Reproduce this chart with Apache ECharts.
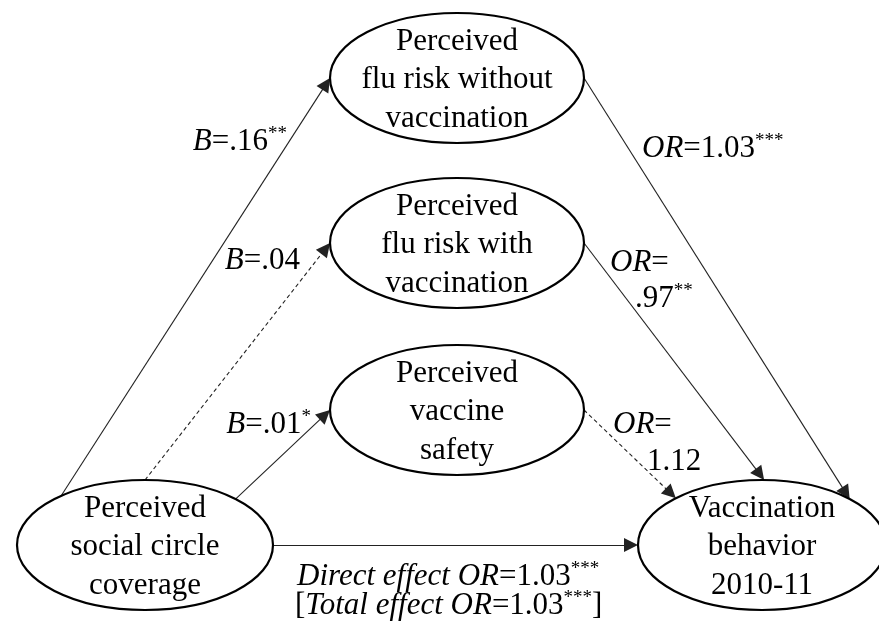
<!DOCTYPE html>
<html>
<head>
<meta charset="utf-8">
<script src="https://cdn.jsdelivr.net/npm/echarts@6/dist/echarts.min.js"></script>
<style>
  html, body { margin: 0; padding: 0; background: #fff; }
  #chart { width: 879px; height: 633px; }
</style>
</head>
<body>
<div id="chart"></div>
<script>
// constructs (ellipses)
const nodeLabels = [
  'Perceived\nsocial circle\ncoverage',
  'Perceived\nflu risk without\nvaccination',
  'Perceived\nflu risk with\nvaccination',
  'Perceived\nvaccine\nsafety',
  'Vaccination\nbehavior\n2010-11'
]

// paths: from -> to, statistic, value, significance stars
const pathFrom = [0, 0, 0, 0, 1, 2, 3]
const pathTo = [1, 2, 3, 4, 4, 4, 4]
const pathStat = ['B', 'B', 'B', 'Direct effect OR', 'OR', 'OR', 'OR']
const pathValue = ['.16', '.04', '.01', '1.03', '1.03', '.97', '1.12']
const pathStars = ['**', '', '*', '***', '***', '**', '']
const totalStat = 'Total effect OR'
const totalValue = '1.03'
const totalStars = '***'

// layout of the diagram (plot units = pixels)
const nodeX = [145, 457, 457, 457, 762]
const nodeY = [545, 78, 243, 410, 545]
const nodeRx = [128, 127, 127, 127, 124]
const nodeRy = [65, 65, 65, 65, 65]
// where each path leaves / meets the ellipse (degrees around the ellipse)
const fromAngle = [131, 90, 45, 0, 0, 0, 0]
const toAngle = [180, 180, 180, 180, 45, 89, 134]
// label anchors per path: [x, y, align]
const labelLayout = [
  [[287, 142, 'right']],
  [[300, 261, 'right']],
  [[311, 425, 'right']],
  [[297, 577, 'left'], [295, 606, 'left']],
  [[642, 149, 'left']],
  [[610, 263, 'left'], [635, 299, 'left']],
  [[613, 425, 'left'], [647, 462, 'left']]
]

const FONT = '"Liberation Serif", "Times New Roman", serif'
const ARROW_LEN = 14

const anchor = (i, deg) => {
  const t = deg * Math.PI / 180
  return [nodeX[i] + nodeRx[i] * Math.cos(t), nodeY[i] - nodeRy[i] * Math.sin(t)]
}

// 连线
const edgeData = pathFrom.map((f, k) => {
  const p1 = anchor(f, fromAngle[k])
  const p2 = anchor(pathTo[k], toAngle[k])
  const dx = p2[0] - p1[0]
  const dy = p2[1] - p1[1]
  const len = Math.sqrt(dx * dx + dy * dy)
  const end = [p2[0] - dx / len * ARROW_LEN / 2, p2[1] - dy / len * ARROW_LEN / 2]
  const dashed = pathStars[k] === ''
  return {
    coords: [p1, end],
    lineStyle: { type: dashed ? [4, 3] : 'solid' }
  }
})

// 标签
const labelItems = []
pathStat.forEach((stat, k) => {
  const lay = labelLayout[k]
  const sup = pathStars[k] ? `{s|${pathStars[k]}}` : ''
  if (k === 3) {
    labelItems.push({ pos: lay[0], text: `{i|${stat}}{r|=${pathValue[k]}}${sup}` })
    labelItems.push({ pos: lay[1], text: `{r|[}{i|${totalStat}}{r|=${totalValue}}{s|${totalStars}}{r|]}` })
  } else if (lay.length === 2) {
    labelItems.push({ pos: lay[0], text: `{i|${stat}}{r|=}` })
    labelItems.push({ pos: lay[1], text: `{r|${pathValue[k]}}${sup}` })
  } else {
    labelItems.push({ pos: lay[0], text: `{i|${stat}}{r|=${pathValue[k]}}${sup}` })
  }
})

const richStyle = {
  i: { fontSize: 31, fontFamily: FONT, fontStyle: 'italic', fill: '#000', lineHeight: 34 },
  r: { fontSize: 31, fontFamily: FONT, fill: '#000', lineHeight: 34 },
  s: { fontSize: 19, fontFamily: FONT, fill: '#000', verticalAlign: 'top', lineHeight: 20 }
}

const chart = echarts.init(document.getElementById('chart'))

const option = {
  animation: false,
  backgroundColor: '#fff',
  grid: { left: 0, right: 0, top: 0, bottom: 0 },
  xAxis: { type: 'value', min: 0, max: 879, show: false },
  yAxis: { type: 'value', min: 0, max: 633, inverse: true, show: false },
  series: [
    {
      type: 'lines',
      coordinateSystem: 'cartesian2d',
      silent: true,
      symbol: ['none', 'path://M6,0 L12,14 L0,14 Z'],
      symbolSize: [0, ARROW_LEN],
      lineStyle: { color: '#222', width: 1.1, opacity: 1 },
      itemStyle: { color: '#000' },
      z: 1,
      data: edgeData
    },
    {
      type: 'custom',
      silent: true,
      z: 2,
      data: nodeLabels.map((_, i) => [nodeX[i], nodeY[i], nodeRx[i], nodeRy[i]]),
      renderItem: (params, api) => {
        const c = api.coord([api.value(0), api.value(1)])
        const s = api.size([api.value(2), api.value(3)])
        return {
          type: 'group',
          children: [
            {
              type: 'ellipse',
              shape: { cx: c[0], cy: c[1], rx: Math.abs(s[0]), ry: Math.abs(s[1]) },
              style: { fill: '#fff', stroke: '#000', lineWidth: 2.2 }
            },
            {
              type: 'text',
              style: {
                text: nodeLabels[params.dataIndex],
                x: c[0],
                y: c[1] + 2,
                align: 'center',
                verticalAlign: 'middle',
                font: '31px ' + FONT,
                lineHeight: 38.5,
                fill: '#000'
              }
            }
          ]
        }
      }
    },
    {
      type: 'custom',
      silent: true,
      z: 3,
      data: labelItems.map(d => [d.pos[0], d.pos[1]]),
      renderItem: (params, api) => {
        const c = api.coord([api.value(0), api.value(1)])
        const item = labelItems[params.dataIndex]
        return {
          type: 'text',
          style: {
            text: item.text,
            x: c[0],
            y: c[1],
            align: item.pos[2],
            verticalAlign: 'middle',
            rich: richStyle
          }
        }
      }
    }
  ]
}

chart.setOption(option)
</script>
</body>
</html>
